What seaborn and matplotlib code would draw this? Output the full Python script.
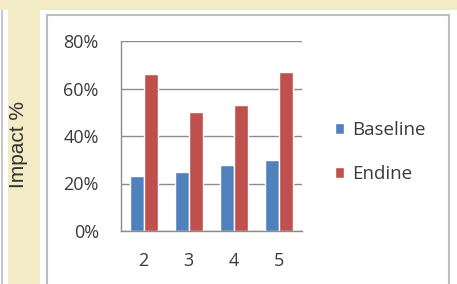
import matplotlib
matplotlib.use("Agg")
import matplotlib.pyplot as plt
import matplotlib.patches as mpatches
import pandas as pd
import seaborn as sns

# data
categories = ["2", "3", "4", "5"]
baseline = [23, 25, 28, 30]
endine = [66, 50, 53, 67]
series = ["Baseline", "Endine"]
yticks = [0, 20, 40, 60, 80]

df = pd.DataFrame({
    "cat": categories * 2,
    "val": baseline + endine,
    "series": [series[0]] * 4 + [series[1]] * 4,
})

sns.set_style("white")
plt.rcParams["font.family"] = ["Open Sans", "DejaVu Sans"]

W, H = 457, 284
fig = plt.figure(figsize=(W / 100, H / 100), dpi=100)
fig.patch.set_facecolor("#F2EBC5")

def px_rect(x0, y0, x1, y1, **kw):
    # rectangle in pixel coords (top-left origin), behind the axes
    fig.patches.append(mpatches.Rectangle((x0 / W, 1 - y1 / H), (x1 - x0) / W, (y1 - y0) / H,
                                          transform=fig.transFigure, figure=fig, zorder=-5, **kw))

px_rect(0, 10, 8, 290, facecolor="white", edgecolor="none")
px_rect(1, 10, 3, 290, facecolor="#C8C8C8", edgecolor="none")
px_rect(40, 10, 460, 290, facecolor="white", edgecolor="none")
px_rect(47, 15, 449, 290, facecolor="none", edgecolor="#BDBDBD", linewidth=1.5)

ax = fig.add_axes([121 / W, 53 / H, 181 / W, 190 / H])
ax.set_facecolor("none")

sns.barplot(data=df, x="cat", y="val", hue="series", order=categories,
            palette=["#4F81BD", "#C0504D"], width=0.62, gap=0, saturation=1,
            ax=ax, legend=True)

ax.set_ylim(0, 80)
ax.set_xlim(-0.5, 3.5)
ax.set_yticks(yticks)
ax.set_yticklabels([f"{t}%" for t in yticks], fontsize=13, color="#3a3a3a")
ax.set_xticks(range(len(categories)))
ax.set_xticklabels(categories, fontsize=13, color="#3a3a3a")
ax.tick_params(axis="x", length=0, pad=15)
ax.set_xticks([-0.5, 0.5, 1.5, 2.5, 3.5], minor=True)
ax.tick_params(axis="x", which="minor", length=4, color="#888888", direction="out")
ax.tick_params(axis="y", length=4, color="#888888", direction="out", pad=12)
ax.yaxis.grid(True, color="#8C8C8C", linewidth=1)
ax.set_axisbelow(True)
for s in ["top", "right"]:
    ax.spines[s].set_visible(False)
for s in ["left", "bottom"]:
    ax.spines[s].set_color("#8C8C8C")
    ax.spines[s].set_linewidth(1)
ax.set_xlabel("")
ax.set_ylabel("")

leg = ax.legend(loc="center left", bbox_to_anchor=(1.18, 0.415), frameon=False,
                fontsize=13.5, handlelength=0.5, handleheight=0.5, handletextpad=0.45,
                labelspacing=1.4, borderpad=0, borderaxespad=0)
for t in leg.get_texts():
    t.set_color("#3a3a3a")

fig.text(18 / W, 1 - 144 / H, "Impact %", rotation=90, ha="center", va="center",
         fontsize=15, color="#333333", family=["Liberation Sans", "DejaVu Sans"])

fig.savefig("out.png", dpi=100, facecolor=fig.get_facecolor())
